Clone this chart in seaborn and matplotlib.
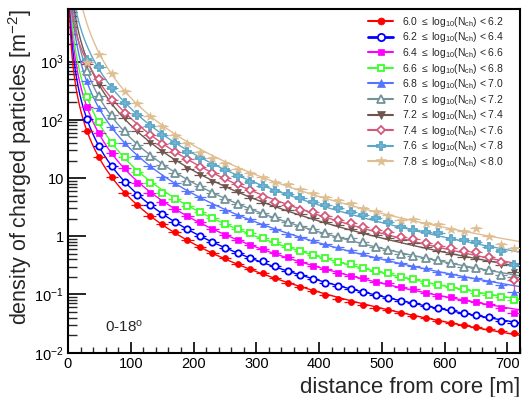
import numpy as np
import pandas as pd
import matplotlib
matplotlib.use("Agg")
import matplotlib.pyplot as plt
import seaborn as sns
from matplotlib.lines import Line2D
from matplotlib.ticker import FixedLocator, FixedFormatter, MultipleLocator, LogLocator, NullFormatter

# ---------------- data ----------------
r_m = [30, 50, 70, 90, 110, 130, 150, 170, 190, 210, 230, 250, 270, 290, 310, 330, 350,
       370, 390, 410, 430, 450, 470, 490, 510, 530, 550, 570, 590, 610, 630, 650, 670, 690, 710]

bin_edges = ["6.0", "6.2", "6.4", "6.6", "6.8", "7.0", "7.2", "7.4", "7.6", "7.8", "8.0"]

# log10 of density [m^-2] for each shower-size bin
log_rho_6_0 = [1.80, 1.36, 1.01, 0.74, 0.54, 0.35, 0.21, 0.07, -0.06, -0.18, -0.29, -0.38, -0.47, -0.555, -0.636,
               -0.715, -0.80, -0.875, -0.945, -1.01, -1.07, -1.125, -1.18, -1.23, -1.275, -1.32, -1.365, -1.41,
               -1.45, -1.49, -1.525, -1.56, -1.59, -1.625, -1.656]
log_rho_6_2 = [2.01, 1.55, 1.21, 0.93, 0.71, 0.53, 0.385, 0.25, 0.13, 0.01, -0.105, -0.205, -0.29, -0.365, -0.43,
               -0.51, -0.59, -0.665, -0.735, -0.795, -0.855, -0.91, -0.965, -1.015, -1.06, -1.105, -1.15, -1.195,
               -1.235, -1.275, -1.315, -1.35, -1.385, -1.46, -1.484]
log_rho_6_4 = [2.22, 1.77, 1.43, 1.17, 0.91, 0.74, 0.595, 0.465, 0.34, 0.25, 0.125, 0.025, -0.06, -0.145, -0.215,
               -0.293, -0.36, -0.436, -0.51, -0.568, -0.625, -0.682, -0.722, -0.78, -0.81, -0.866, -0.911, -0.969,
               -1.02, -1.04, -1.095, -1.123, -1.163, -1.238, -1.324]
log_rho_6_6 = [2.39, 1.97, 1.61, 1.36, 1.11, 0.92, 0.75, 0.635, 0.52, 0.42, 0.31, 0.21, 0.125, 0.05, -0.025,
               -0.092, -0.178, -0.247, -0.321, -0.379, -0.436, -0.476, -0.551, -0.591, -0.625, -0.694, -0.74,
               -0.797, -0.837, -0.866, -0.911, -0.98, -1.009, -1.037, -1.1]
log_rho_6_8 = [2.66, 2.20, 1.87, 1.60, 1.37, 1.20, 1.025, 0.91, 0.77, 0.68, 0.54, 0.45, 0.365, 0.29, 0.215,
               0.12, 0.04, -0.018, -0.06, -0.132, -0.19, -0.235, -0.293, -0.35, -0.396, -0.465, -0.51, -0.551,
               -0.608, -0.648, -0.694, -0.722, -0.77, -0.83, -0.95]
log_rho_7_0 = [2.83, 2.41, 2.08, 1.80, 1.57, 1.37, 1.225, 1.08, 0.95, 0.855, 0.74, 0.64, 0.555, 0.47, 0.406,
               0.326, 0.251, 0.177, 0.12, 0.06, -0.005, -0.035, -0.092, -0.178, -0.235, -0.3, -0.339, -0.379,
               -0.407, -0.453, -0.522, -0.551, -0.579, -0.665, -0.694]
log_rho_7_2 = [2.95, 2.60, 2.285, 2.03, 1.80, 1.60, 1.45, 1.30, 1.16, 1.05, 0.94, 0.84, 0.76, 0.655, 0.566,
               0.521, 0.452, 0.383, 0.309, 0.251, 0.194, 0.12, 0.062, 0.022, -0.035, -0.07, -0.12, -0.19,
               -0.25, -0.3, -0.35, -0.39, -0.42, -0.5, -0.62]
log_rho_7_4 = [3.0, 2.70, 2.34, 2.11, 1.88, 1.74, 1.585, 1.455, 1.32, 1.195, 1.08, 0.995, 0.905, 0.80, 0.68,
               0.595, 0.538, 0.452, 0.41, 0.349, 0.28, 0.223, 0.154, 0.108, 0.07, -0.006, -0.05, -0.12,
               -0.165, -0.21, -0.25, -0.27, -0.361, -0.44, -0.75]
log_rho_7_6 = [3.02, 2.90, 2.54, 2.285, 2.09, 1.90, 1.74, 1.60, 1.44, 1.34, 1.225, 1.13, 1.035, 0.94, 0.855,
               0.784, 0.727, 0.652, 0.595, 0.538, 0.481, 0.41, 0.366, 0.32, 0.252, 0.16, 0.108, 0.08,
               0.05, -0.04, -0.06, -0.10, -0.18, -0.25, -0.49]
log_rho_7_8 = [3.0, 3.13, 2.81, 2.50, 2.285, 2.06, 1.895, 1.74, 1.60, 1.455, 1.35, 1.25, 1.16, 1.09, 1.025,
               0.939, 0.899, 0.807, 0.738, 0.681, 0.624, 0.566, 0.481, 0.44, 0.366, 0.28, 0.303, 0.234,
               0.211, 0.12, 0.097, 0.137, 0.005, -0.132, -0.207]

all_logs = [log_rho_6_0, log_rho_6_2, log_rho_6_4, log_rho_6_6, log_rho_6_8,
            log_rho_7_0, log_rho_7_2, log_rho_7_4, log_rho_7_6, log_rho_7_8]

# first point excluded from the fit for the saturated high-size bins
fit_skip_first = [False, False, False, False, False, False, True, True, True, True]

# ---------------- styles ----------------
colors = ["#ff0000", "#0000ff", "#ff00ff", "#3dff2a", "#5574ff",
          "#73939a", "#6e564f", "#d5577a", "#5aa6c8", "#dfbf92"]
markers = ["o", "o", "s", "s", "^", "^", "v", "D", "P", "*"]
mfill = [True, False, True, False, True, False, True, False, False, True]
msizes = [4.4, 4.6, 4.0, 4.2, 5.0, 5.2, 5.0, 3.8, 5.6, 6.4]

sns.set_theme(style="white")
plt.rcParams["font.family"] = ["Liberation Sans", "DejaVu Sans"]
plt.rcParams["mathtext.fontset"] = "custom"
plt.rcParams["mathtext.rm"] = "Liberation Sans"
plt.rcParams["mathtext.it"] = "Liberation Sans:italic"
plt.rcParams["mathtext.bf"] = "Liberation Sans:bold"

W, H = 524, 397
fig = plt.figure(figsize=(W / 100, H / 100), dpi=100)
x0, x1, y0, y1 = 68, 520, 9, 352.7
ax = fig.add_axes([x0 / W, 1 - y1 / H, (x1 - x0) / W, (y1 - y0) / H])

r = np.array(r_m, dtype=float)
labels = [f"{bin_edges[i]} $\\leq$ log$_{{10}}$(N$_{{\\rm ch}}$) < {bin_edges[i+1]}" for i in range(10)]

# fitted lines: least-squares fit of log10(rho) = a + b log10(r) + c log10(1 + r/100)
r_dense = np.concatenate([np.linspace(1.0, 30, 120), np.linspace(30, 720, 300)])
rows = []
for i, lg in enumerate(all_logs):
    y = np.array(lg)
    rr = r
    if fit_skip_first[i]:
        y = y[1:]
        rr = r[1:]
    A = np.column_stack([np.ones_like(rr), np.log10(rr), np.log10(1 + rr / 100.0)])
    coef, *_ = np.linalg.lstsq(A, y, rcond=None)
    Ad = np.column_stack([np.ones_like(r_dense), np.log10(r_dense), np.log10(1 + r_dense / 100.0)])
    yd = Ad @ coef
    for xv, yv in zip(r_dense, yd):
        rows.append({"r": xv, "rho": 10 ** yv, "bin": labels[i]})
fit_df = pd.DataFrame(rows)

sns.lineplot(data=fit_df, x="r", y="rho", hue="bin", palette=dict(zip(labels, colors)),
             linewidth=1.0, legend=False, ax=ax, estimator=None, sort=True, zorder=2)

handles = []
for i, lg in enumerate(all_logs):
    rho = 10 ** np.array(lg)
    c = colors[i]
    mfc = c if mfill[i] else "white"
    mew = 0.5 if mfill[i] else 1.3
    ax.errorbar(r, rho, xerr=10, fmt=markers[i], color=c, mfc=mfc, mec=c, ms=msizes[i],
                mew=mew, elinewidth=0.9, capsize=0, ls="none", zorder=3)
    lw = 2.0 if i == 1 else 1.5
    handles.append(Line2D([], [], color=c, lw=lw, marker=markers[i], ms=msizes[i] + 0.6,
                          mfc=mfc, mec=c, mew=mew))

# the last 7.4-7.6 point carries a visible vertical error bar
ax.errorbar([r_m[-1]], [10 ** log_rho_7_4[-1]],
            yerr=[[10 ** log_rho_7_4[-1] - 10 ** (log_rho_7_4[-1] - 0.17)],
                  [10 ** (log_rho_7_4[-1] + 0.17) - 10 ** log_rho_7_4[-1]]],
            fmt="none", ecolor=colors[7], elinewidth=1.0, zorder=3)

ax.set_yscale("log")
ax.set_xlim(0, 720)
ax.set_ylim(0.01, 8000)

ax.xaxis.set_minor_locator(MultipleLocator(20))
ax.set_xticks([0, 100, 200, 300, 400, 500, 600, 700])
ax.set_xticklabels(["0", "100", "200", "300", "400", "500", "600", "700"], fontsize=10.5)
ax.yaxis.set_major_locator(FixedLocator([1e-2, 1e-1, 1, 10, 100, 1000]))
ax.yaxis.set_major_formatter(FixedFormatter([r"$10^{-2}$", r"$10^{-1}$", "1", "10", r"$10^{2}$", r"$10^{3}$"]))
ax.yaxis.set_minor_locator(LogLocator(base=10, subs=np.arange(2, 10), numticks=30))
ax.yaxis.set_minor_formatter(NullFormatter())
for lab in ax.get_yticklabels():
    lab.set_fontsize(10.5)

ax.tick_params(axis="x", which="major", direction="in", length=8, width=1.2, pad=3,
               top=False, bottom=True, colors="black")
ax.tick_params(axis="x", which="minor", direction="in", length=4, width=1.0, top=False, bottom=True)
ax.tick_params(axis="y", which="major", direction="in", length=13, width=1.2, pad=3,
               right=False, left=True, colors="black")
ax.tick_params(axis="y", which="minor", direction="in", length=6.5, width=1.0, right=False, left=True)

for sp in ax.spines.values():
    sp.set_color("black")
    sp.set_linewidth(1.5)

ax.set_xlabel("")
ax.set_ylabel("")
fig.text(x1 / W, 1 - 387 / H, "distance from core [m]", ha="right", va="center", fontsize=16)
fig.text(20 / W, 1 - 9 / H, "density of charged particles [m$^{-2}$]", rotation=90,
         ha="center", va="top", fontsize=15.5)
fig.text(105 / W, 1 - 327 / H, r"0-18$^{\rm o}$", ha="left", va="center", fontsize=11)

leg = ax.legend(handles, labels, loc="upper left", bbox_to_anchor=((368 - x0) / (x1 - x0), 0.983),
                frameon=False, fontsize=7.5, handlelength=2.4, handletextpad=0.9,
                labelspacing=0.15, borderpad=0, borderaxespad=0, numpoints=1)

fig.savefig("out.png", dpi=100)
